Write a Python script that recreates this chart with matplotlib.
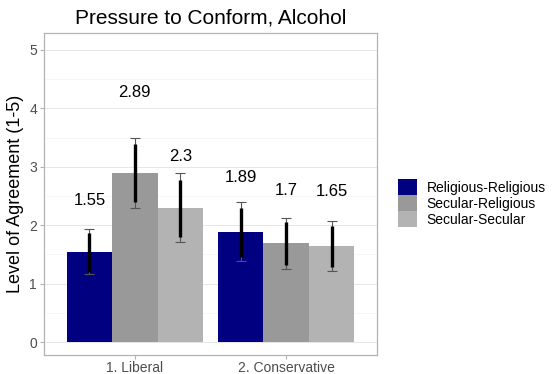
import numpy as np
import matplotlib
matplotlib.use("Agg")
import matplotlib.pyplot as plt
from matplotlib.patches import Patch

plt.rcParams["font.family"] = ["Liberation Sans", "DejaVu Sans"]

groups = ["1. Liberal", "2. Conservative"]
pairs = ["Religious-Religious", "Secular-Religious", "Secular-Secular"]
colors = ["#000080", "#999999", "#b3b3b3"]

# means per pair type, one entry per group
means = {
    "Religious-Religious": [1.55, 1.89],
    "Secular-Religious": [2.89, 1.70],
    "Secular-Secular": [2.30, 1.65],
}
# outer (thin, capped) interval
ci_lo = {
    "Religious-Religious": [1.16, 1.39],
    "Secular-Religious": [2.29, 1.25],
    "Secular-Secular": [1.71, 1.22],
}
ci_hi = {
    "Religious-Religious": [1.93, 2.39],
    "Secular-Religious": [3.49, 2.13],
    "Secular-Secular": [2.89, 2.08],
}
# inner (thick) interval
se_lo = {
    "Religious-Religious": [1.20, 1.46],
    "Secular-Religious": [2.40, 1.32],
    "Secular-Secular": [1.80, 1.29],
}
se_hi = {
    "Religious-Religious": [1.87, 2.30],
    "Secular-Religious": [3.39, 2.05],
    "Secular-Secular": [2.77, 1.99],
}
# where the value labels sit
label_y = {
    "Religious-Religious": [2.43, 2.81],
    "Secular-Religious": [4.28, 2.59],
    "Secular-Secular": [3.18, 2.57],
}

fig = plt.figure(figsize=(5.56, 3.74), dpi=100)
ax = fig.add_axes([44 / 556, 19 / 374, 333 / 556, 322 / 374])

x = np.arange(1, len(groups) + 1)
w = 0.3
for j, p in enumerate(pairs):
    xs = x + (j - 1) * w
    m = np.array(means[p])
    ax.bar(xs, m, width=w, color=colors[j], zorder=2)
    lo, hi = np.array(ci_lo[p]), np.array(ci_hi[p])
    ax.errorbar(xs, m, yerr=[m - lo, hi - m], fmt="none", ecolor="#555555",
                elinewidth=0.8, capsize=3.6, capthick=0.8, zorder=3)
    slo, shi = np.array(se_lo[p]), np.array(se_hi[p])
    ax.vlines(xs, slo, shi, color="black", linewidth=2.4, zorder=4)
    for xi, mi, yi in zip(xs, m, label_y[p]):
        ax.text(xi, yi, f"{mi:g}", ha="center", va="center", fontsize=12,
                color="black", zorder=5)

ax.set_xlim(0.4, 2.6)
ax.set_ylim(-0.22, 5.29)
ax.set_xticks(x)
ax.set_xticklabels(groups)
ax.set_yticks(range(6))
ax.set_yticks(np.arange(0.5, 5, 1), minor=True)
ax.grid(axis="y", which="major", color="#e6e6e6", linewidth=0.7, zorder=0)
ax.grid(axis="y", which="minor", color="#efefef", linewidth=0.4, zorder=0)
ax.set_axisbelow(True)
ax.tick_params(axis="both", which="major", colors="#b3b3b3", labelcolor="#4d4d4d",
               labelsize=10, length=3, width=0.8, pad=2)
ax.tick_params(axis="x", which="major", pad=1)
ax.tick_params(axis="y", which="minor", length=0)
for s in ax.spines.values():
    s.set_color("#b3b3b3")
    s.set_linewidth(0.9)

ax.set_ylabel("Level of Agreement (1-5)", fontsize=13, color="black", labelpad=4)
ax.set_title("Pressure to Conform, Alcohol", fontsize=15, color="black", pad=7)

handles = [Patch(facecolor=c, edgecolor="none") for c in colors]
fig.legend(handles, pairs, loc="upper left", bbox_to_anchor=(398 / 556, 1 - 179 / 374),
           frameon=False, fontsize=10, handlelength=1.37, handleheight=1.37,
           handletextpad=0.7, labelspacing=0.02, borderpad=0, borderaxespad=0)

fig.savefig("out.png", dpi=100)
